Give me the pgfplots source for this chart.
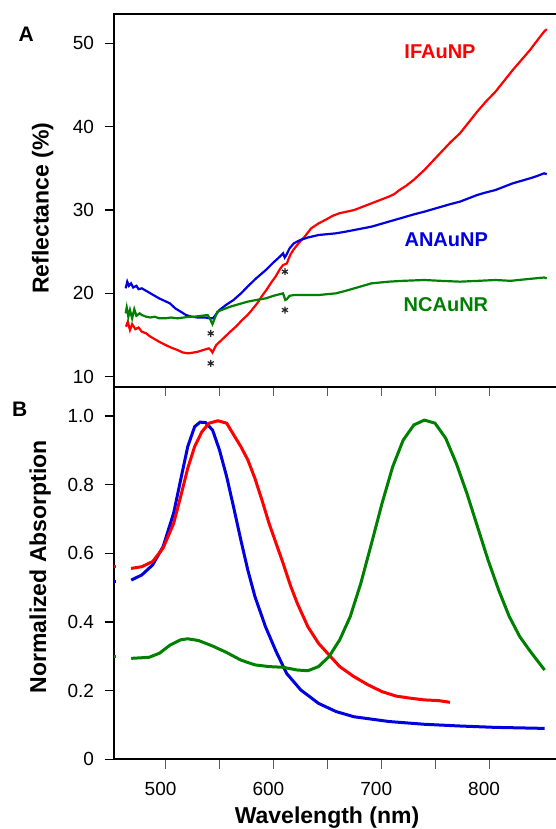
\documentclass[border=0pt]{standalone}
\usepackage{fontspec}
\setmainfont{Liberation Sans}
\usepackage{pgfplots}
\pgfplotsset{compat=1.18}
\definecolor{cRed}{RGB}{255,0,0}
\definecolor{cBlue}{RGB}{0,0,225}
\definecolor{cGreen}{RGB}{0,128,0}
\pgfplotsset{
  panel/.style={
    scale only axis, width=447pt, anchor=south west,
    xmin=452.2, xmax=866.7,
    xtick={500,550,...,800},
    tick align=outside, xtick pos=left, ytick pos=left,
    axis line style={line width=1.8pt},
    xtick style={line width=1.1pt, black!65},
    ytick style={line width=1.5pt, black},
    major tick length=9.5pt,
    /pgf/number format/assume math mode=true,
    ticklabel style={font=\fontsize{19}{22}\selectfont},
    yticklabel style={xshift=-7pt},
    xticklabel style={yshift=-10pt, xshift=-5pt},
  },
}
\begin{document}
\begin{tikzpicture}[x=1pt,y=1pt]
\path[use as bounding box] (0,0) rectangle (555,829);
% ---------------- Panel A
\begin{axis}[panel, at={(114pt,442.3pt)}, height=372.4pt,
  ymin=8.8, ymax=53.48, ytick={10,20,30,40,50}, xticklabels={}]
\addplot[cRed, line width=2.2pt] coordinates {
(463.3,16.0)(465,16.6)(467,15.6)(469,16.3)(472,15.7)(475,15.9)(478,15.4)(482,15.2)
(486,14.8)(490,14.5)(494,14.2)(500,13.8)(505,13.5)(511,13.2)(516,12.9)(521,12.8)
(526,12.9)(530,13.0)(535,13.2)(540,13.4)(542,13.2)(543.5,12.9)(545,13.3)(547,13.8)
(552,14.4)(556,14.9)(560,15.4)(566,16.1)(571,16.8)(576,17.4)(580,18.0)(585,18.8)
(589,19.6)(594,20.5)(598,21.3)(602,22.0)(606,22.9)(609,23.4)(611,23.5)(612.5,23.6)
(614,24.1)(616,24.7)(619,25.3)(624,26.1)(629,26.8)(635,27.8)(642,28.4)(648,28.8)
(655,29.3)(661,29.6)(668,29.8)(675,30.0)(683,30.4)(691,30.8)(699,31.2)(707,31.6)
(712,31.9)(717,32.4)(723,32.9)(730,33.6)(735,34.2)(740,34.8)(748,35.9)(756,37.0)
(764,38.1)(773,39.2)(781,40.5)(789,41.8)(797,43.0)(806,44.2)(814,45.5)(822,46.8)
(830,48.0)(838,49.2)(845,50.4)(851,51.4)(853.5,51.7)
};
\addplot[cBlue, line width=2.2pt] coordinates {
(463,20.6)(464.5,21.4)(466,20.9)(468,21.2)(470,20.7)(473,20.9)(475,20.5)(478,20.6)
(482,20.3)(486,20.0)(490,19.7)(494,19.4)(499,19.1)(504,18.8)(509,18.2)(514,17.8)
(519,17.4)(524,17.2)(530,17.1)(537,17.1)(541,17.0)(544,17.0)(547,17.5)(550,18.0)
(556,18.6)(563,19.2)(570,20.0)(576,20.8)(584,21.8)(593,22.8)(600,23.7)(606,24.4)
(609,24.8)(610.5,24.3)(612,24.6)(615,25.4)(619,26.0)(625,26.4)(632,26.7)(642,27.0)
(650,27.1)(658,27.2)(667,27.4)(675,27.6)(683,27.8)(691,28.0)(699,28.3)(707,28.6)
(715,28.9)(723,29.2)(731,29.5)(740,29.8)(748,30.1)(756,30.4)(764,30.7)(773,31.0)
(781,31.4)(789,31.8)(797,32.1)(806,32.4)(814,32.8)(822,33.2)(830,33.5)(838,33.8)
(845,34.1)(851,34.4)(853.5,34.3)
};
\addplot[cGreen, line width=2.2pt] coordinates {
(463,17.6)(464,18.3)(465.5,17.2)(467,18.0)(469,17.0)(471,18.1)(473,17.3)(476,17.6)
(478,17.4)(482,17.2)(486,17.1)(490,17.2)(494,17.0)(500,17.0)(505,17.1)(511,17.0)
(517,17.1)(522,17.2)(527,17.2)(533,17.3)(539,17.4)(541,17.0)(543.5,16.3)(545,16.8)
(548,17.8)(554,18.1)(560,18.4)(568,18.7)(576,19.0)(584,19.2)(593,19.4)(600,19.7)
(606,19.9)(609,20.0)(611,19.2)(612.5,19.3)(615,19.7)(619,19.8)(630,19.8)(642,19.8)
(650,19.9)(658,20.0)(667,20.3)(675,20.6)(683,20.9)(691,21.2)(699,21.3)(707,21.4)
(720,21.5)(740,21.6)(755,21.5)(773,21.4)(790,21.5)(806,21.6)(820,21.5)(835,21.7)
(851,21.9)(853.5,21.8)
};
\addplot[only marks, mark=asterisk, mark size=3.5pt, mark options={line width=1.2pt, black!85}]
  coordinates {(541.9,15.2)(541.9,11.6)(610.7,22.6)(610.7,18.0)};
\node[font=\bfseries\fontsize{20}{22}\selectfont, text=cRed] at (axis cs:754.5,49.0) {IFAuNP};
\node[font=\bfseries\fontsize{20}{22}\selectfont, text=cBlue] at (axis cs:760.3,26.4) {ANAuNP};
\node[font=\bfseries\fontsize{20}{22}\selectfont, text=cGreen] at (axis cs:760,18.65) {NCAuNR};
\end{axis}
% ---------------- Panel B
\begin{axis}[panel, at={(114pt,69.7pt)}, height=372.6pt,
  ymin=0, ymax=1.0853, ytick={0,0.2,0.4,0.6,0.8,1.0},
  yticklabels={0,0.2,0.4,0.6,0.8,1.0},
  xticklabels={500,,600,,700,,800}]
\addplot[cRed, line width=3pt] coordinates {(452.2,0.561)(453.6,0.561)};
\addplot[cBlue, line width=3pt] coordinates {(452.2,0.517)(453.6,0.517)};
\addplot[cGreen, line width=3pt] coordinates {(452.2,0.299)(453.6,0.299)};
\addplot[cBlue, line width=3pt] coordinates {
(468.2,0.522)(478,0.537)(488,0.566)(497.7,0.619)(507.5,0.717)(514,0.814)(520.6,0.911)
(527,0.969)(532,0.982)(537,0.981)(543.6,0.959)(550,0.901)(556.7,0.823)(563,0.736)
(569.8,0.639)(576.3,0.551)(582.9,0.474)(592.7,0.386)(602.5,0.314)(612.3,0.250)
(625.4,0.202)(641.8,0.163)(658.2,0.139)(674.6,0.124)(707.3,0.110)(740,0.102)
(772.8,0.097)(805.6,0.093)(851.5,0.090)
};
\addplot[cRed, line width=3pt] coordinates {
(468,0.556)(478,0.561)(488,0.576)(497.7,0.615)(507.5,0.687)(514,0.765)(520.6,0.848)
(527,0.911)(533.7,0.954)(540.3,0.979)(548.5,0.986)(556.7,0.979)(563.2,0.945)
(569.8,0.911)(576.3,0.872)(582.9,0.818)(589.4,0.755)(596,0.687)(602.5,0.629)
(609,0.571)(615.6,0.508)(622.2,0.454)(632,0.386)(641.8,0.338)(651.6,0.304)
(661.5,0.270)(674.6,0.241)(687.7,0.217)(700.8,0.197)(713.9,0.184)(727,0.178)
(740,0.173)(753,0.171)(763.7,0.166)
};
\addplot[cGreen, line width=3pt] coordinates {
(468.2,0.294)(484.6,0.297)(494.4,0.309)(504.3,0.333)(514,0.348)(520.6,0.351)
(530.5,0.346)(543.6,0.330)(556.7,0.311)(569.8,0.289)(582.9,0.275)(596,0.270)
(609,0.268)(622.2,0.260)(632,0.258)(641.8,0.270)(651.6,0.299)(661.5,0.348)
(671.3,0.416)(681.1,0.513)(691,0.629)(700.8,0.746)(710.6,0.852)(720.4,0.930)
(730.3,0.974)(740,0.988)(749.9,0.979)(759.8,0.935)(769.6,0.862)(779.4,0.775)
(789.2,0.678)(799,0.581)(808.9,0.493)(818.7,0.416)(828.5,0.357)(838.3,0.314)
(851.5,0.260)
};
\end{axis}
% ---------------- labels
\node[font=\bfseries\fontsize{21}{24}\selectfont] at (26.3,794.5) {A};
\node[font=\bfseries\fontsize{21}{24}\selectfont] at (19.7,420) {B};
\node[rotate=90, anchor=base, font=\bfseries\fontsize{23}{26}\selectfont] at (48.5,620.7) {Reflectance (\%)};
\node[rotate=90, anchor=base, font=\bfseries\fontsize{23}{26}\selectfont] at (46,262.3) {Normalized Absorption};
\node[anchor=base, font=\bfseries\fontsize{23}{26}\selectfont] at (327,5.5) {Wavelength (nm)};
\end{tikzpicture}
\end{document}
